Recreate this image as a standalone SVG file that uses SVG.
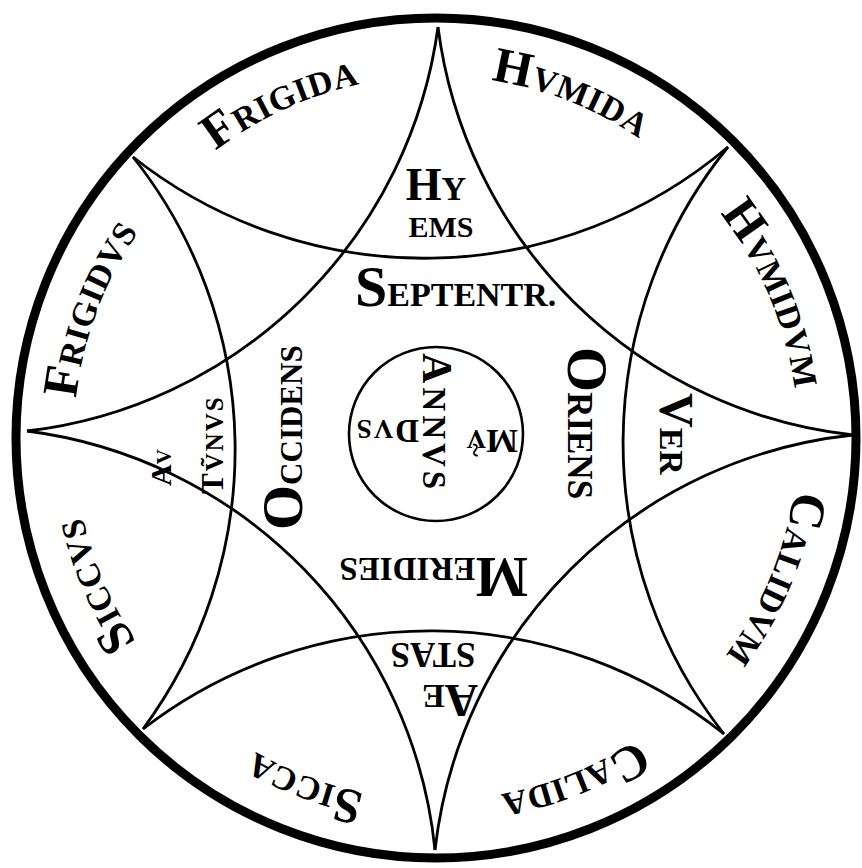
<svg xmlns="http://www.w3.org/2000/svg" xmlns:xlink="http://www.w3.org/1999/xlink" width="862" height="868" viewBox="0 0 862 868">
<style>
  .ring { fill: none; stroke: #000; stroke-width: 9; }
  .arc { fill: none; stroke: #000; stroke-width: 2.8; stroke-linejoin: miter; }
  .inner { fill: none; stroke: #000; stroke-width: 2.6; }
  text { font-family: "Liberation Serif", "Times New Roman", serif; font-weight: bold; fill: #000; }
  .outer { font-size: 34px; letter-spacing: 0.5px; }
  .big { font-size: 50px; }
</style>
<defs>
  <path id="ringPath" d="M 436,76 A 362 362 0 1 1 436,800 A 362 362 0 1 1 436,76"/>
</defs>
<rect width="862" height="868" fill="#fff"/>

<circle id="outer-circle" class="ring" cx="436" cy="438" r="420"/>

<g id="connectors">
  <path class="arc" d="M 438,27 A 470 470 0 0 0 853,435"/>
  <path class="arc" d="M 728,147 A 470 470 0 0 0 724,734"/>
  <path class="arc" d="M 853,435 A 470 470 0 0 0 435,850"/>
  <path class="arc" d="M 724,734 A 470 470 0 0 0 143,729"/>
  <path class="arc" d="M 435,850 A 470 470 0 0 0 27,431"/>
  <path class="arc" d="M 143,729 A 470 470 0 0 0 133,157"/>
  <path class="arc" d="M 27,431 A 470 470 0 0 0 438,27"/>
  <path class="arc" d="M 133,157 A 470 470 0 0 0 728,147"/>
</g>

<g id="center-circle">
  <circle class="inner" cx="436" cy="434" r="87"/>
</g>

<g id="ring-labels">
  <g id="frigida"><text class="outer" text-anchor="middle"><textPath href="#ringPath" xlink:href="#ringPath" startOffset="93.1%"><tspan class="big">F</tspan>RIGIDA</textPath></text></g>
  <g id="hvmida"><text class="outer" text-anchor="middle"><textPath href="#ringPath" xlink:href="#ringPath" startOffset="5.97%"><tspan class="big">H</tspan>VMIDA</textPath></text></g>
  <g id="hvmidvm"><text class="outer" text-anchor="middle"><textPath href="#ringPath" xlink:href="#ringPath" startOffset="18.6%"><tspan class="big">H</tspan>VMIDVM</textPath></text></g>
  <g id="calidvm"><text class="outer" text-anchor="middle"><textPath href="#ringPath" xlink:href="#ringPath" startOffset="31.3%"><tspan class="big">C</tspan>ALIDVM</textPath></text></g>
  <g id="calida"><text class="outer" text-anchor="middle"><textPath href="#ringPath" xlink:href="#ringPath" startOffset="43.9%"><tspan class="big">C</tspan>ALIDA</textPath></text></g>
  <g id="sicca"><text class="outer" text-anchor="middle"><textPath href="#ringPath" xlink:href="#ringPath" startOffset="55.75%"><tspan class="big">S</tspan>ICCA</textPath></text></g>
  <g id="siccvs"><text class="outer" text-anchor="middle"><textPath href="#ringPath" xlink:href="#ringPath" startOffset="68.5%"><tspan class="big">S</tspan>ICCVS</textPath></text></g>
  <g id="frigidvs"><text class="outer" text-anchor="middle"><textPath href="#ringPath" xlink:href="#ringPath" startOffset="80.7%"><tspan class="big">F</tspan>RIGIDVS</textPath></text></g>
</g>

<g id="hyems">
  <text x="436" y="200" text-anchor="middle"><tspan font-size="46">H</tspan><tspan font-size="34">Y</tspan></text>
  <text x="441" y="237" text-anchor="middle" font-size="30">EMS</text>
</g>

<g id="septentr">
  <text x="355" y="306"><tspan font-size="58">S</tspan><tspan font-size="34">EPTENTR.</tspan></text>
</g>

<g id="oriens">
  <text transform="translate(568,347) rotate(90)"><tspan font-size="58">O</tspan><tspan font-size="35">RIENS</tspan></text>
</g>

<g id="occidens">
  <text transform="translate(302,530) rotate(-90)"><tspan font-size="58">O</tspan><tspan font-size="31">CCIDENS</tspan></text>
</g>

<g id="meridies">
  <text transform="translate(528,558) rotate(180)"><tspan font-size="56">M</tspan><tspan font-size="33">ERIDIES</tspan></text>
</g>

<g id="aestas">
  <text transform="translate(450,685) rotate(180)" text-anchor="middle"><tspan font-size="46">A</tspan><tspan font-size="34">E</tspan></text>
  <text transform="translate(433,643) rotate(180)" text-anchor="middle" font-size="35">STAS</text>
</g>

<g id="autumnus">
  <text transform="translate(171,486) rotate(-90)"><tspan font-size="30">A</tspan><tspan font-size="21">V</tspan></text>
  <text transform="translate(223,494) rotate(-90)" letter-spacing="2"><tspan font-size="31">T</tspan><tspan font-size="25">V&#x303;NVS</tspan></text>
</g>

<g id="ver">
  <text transform="translate(660,393) rotate(90)"><tspan font-size="48">V</tspan><tspan font-size="34">ER</tspan></text>
</g>

<g id="annvs-mvndvs">
  <text transform="translate(423,353) rotate(90)" letter-spacing="4"><tspan font-size="42">A</tspan><tspan font-size="33">NNVS</tspan></text>
  <text transform="translate(518,430) rotate(180)"><tspan font-size="34">M</tspan><tspan font-size="27">V</tspan></text>
  <text transform="translate(467,450) rotate(90)" font-size="26" text-anchor="middle">~</text>
  <text transform="translate(419,420) rotate(180)" letter-spacing="2"><tspan font-size="33">D</tspan><tspan font-size="27">VS</tspan></text>
</g>
</svg>
